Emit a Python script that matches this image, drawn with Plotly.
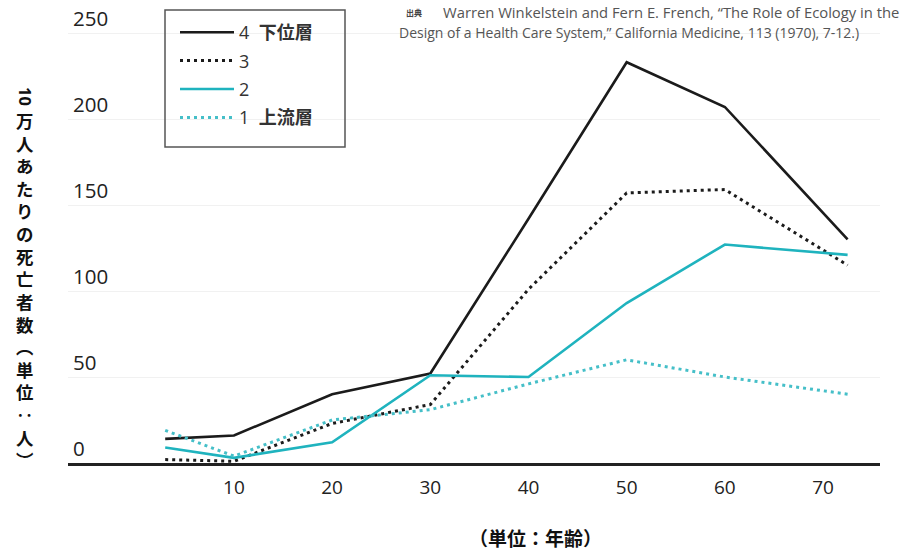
import plotly.graph_objects as go

# ---- data ----
ages = [3, 10, 20, 30, 40, 50, 60, 72.5]
s4 = [14, 16, 40, 52, 142, 233, 207, 130]
s3 = [2, 1, 23, 34, 101, 157, 159, 115]
s2 = [9, 3, 12, 51, 50, 93, 127, 121]
s1 = [19, 4, 25, 31, 46, 60, 50, 40]
series_names = ["4\u00a0\u00a0<b>下位層</b>", "3", "2", "1\u00a0\u00a0<b>上流層</b>"]
x_ticks = [10, 20, 30, 40, 50, 60, 70]
y_ticks = [0, 50, 100, 150, 200, 250]
y_title_chars = list("万人あたりの死亡者数") + ["︵", "単", "位", "‥", "人", "︶"]
x_title = "（単位：年齢）"
source_l1 = "Warren Winkelstein and Fern E. French, “The Role of Ecology in the"
source_l2 = "Design of a Health Care System,” California Medicine, 113 (1970), 7-12.)"

BLACK = "#1b1b1b"
TEAL = "#1fb3be"
TEAL_L = "#45bfc8"
JP = "Noto Sans CJK JP"
NUM = "Open Sans"

# layout geometry (pixels)
L, R, T, B = 68, 33, 8, 90
W, H = 913 - L - R, 553 - T - B


def px(x):
    return (x - L) / W


def py(y):
    return (553 - B - y) / H


fig = go.Figure()
styles = [
    (s4, BLACK, 2.6, "solid"),
    (s3, BLACK, 3, "3px,4px"),
    (s2, TEAL, 2.6, "solid"),
    (s1, TEAL_L, 3, "3px,4px"),
]
for i, (vals, col, w, dash) in enumerate(styles):
    fig.add_trace(go.Scatter(
        x=ages, y=vals, mode="lines", name=series_names[i],
        legendgroup=f"g{i}",
        line=dict(color=col, width=w, dash=dash),
    ))

fig.update_layout(
    width=913, height=553,
    margin=dict(l=L, r=R, t=T, b=B),
    paper_bgcolor="white", plot_bgcolor="white",
    showlegend=True,
    legend=dict(
        x=px(175), y=py(14), xanchor="left", yanchor="top",
        borderwidth=0, bgcolor="rgba(0,0,0,0)",
        font=dict(family=f"{NUM}, {JP}", size=18, color="#333"),
        tracegroupgap=2, itemwidth=54,
    ),
    xaxis=dict(
        range=[-6.9, 75.8], tickvals=x_ticks, showgrid=False, zeroline=False,
        showline=True, linecolor="#222", linewidth=3, ticks="",
        tickfont=dict(family=NUM, size=19, color="#222"),
        ticklabelstandoff=5,
    ),
    yaxis=dict(
        range=[0, H / 1.72], tickvals=y_ticks,
        showgrid=True, gridcolor="#f1f1f1",
        gridwidth=1, zeroline=False, showline=False, ticks="",
        showticklabels=False,
    ),
)

# legend frame
fig.add_shape(type="rect", xref="paper", yref="paper",
              x0=px(165), x1=px(345), y0=py(147), y1=py(10),
              line=dict(color="#555", width=1.5))

# y tick labels placed above their grid lines
for v in y_ticks:
    fig.add_annotation(text=str(v), xref="paper", yref="y", x=0, y=v,
                       xanchor="left", yanchor="bottom", xshift=3, yshift=-1,
                       showarrow=False,
                       font=dict(family=NUM, size=20.5, color="#222"))

# y-axis title (vertical, upright characters)
fig.add_annotation(text="<b>10</b>", textangle=90, xref="paper", yref="paper",
                   x=px(25), y=py(96), xanchor="center", yanchor="middle",
                   showarrow=False,
                   font=dict(family=NUM, size=16.5, color="#111"))
fig.add_annotation(text="<br>".join(f"<b>{c}</b>" for c in y_title_chars),
                   xref="paper", yref="paper", x=px(25), y=py(106),
                   xanchor="center", yanchor="top", showarrow=False,
                   font=dict(family=JP, size=17.4, color="#111"))

# x-axis title
fig.add_annotation(text=f"<b>{x_title}</b>", xref="paper", yref="paper",
                   x=px(535), y=py(537), xanchor="center", yanchor="middle",
                   showarrow=False,
                   font=dict(family=JP, size=19, color="#111"))

# source
fig.add_annotation(text="<b>出典</b>", xref="paper", yref="paper",
                   x=px(404), y=py(13), xanchor="left", yanchor="middle",
                   showarrow=False, font=dict(family=JP, size=8, color="#444"))
fig.add_annotation(text=source_l1, xref="paper", yref="paper",
                   x=px(441), y=py(12), xanchor="left", yanchor="middle",
                   showarrow=False, font=dict(family=NUM, size=14.8, color="#555"))
fig.add_annotation(text=source_l2, xref="paper", yref="paper",
                   x=px(397), y=py(32), xanchor="left", yanchor="middle",
                   showarrow=False, font=dict(family=NUM, size=14, color="#555"))

fig.write_html("out.html", config={"displayModeBar": False},
               post_script="document.body.style.margin='0';")
